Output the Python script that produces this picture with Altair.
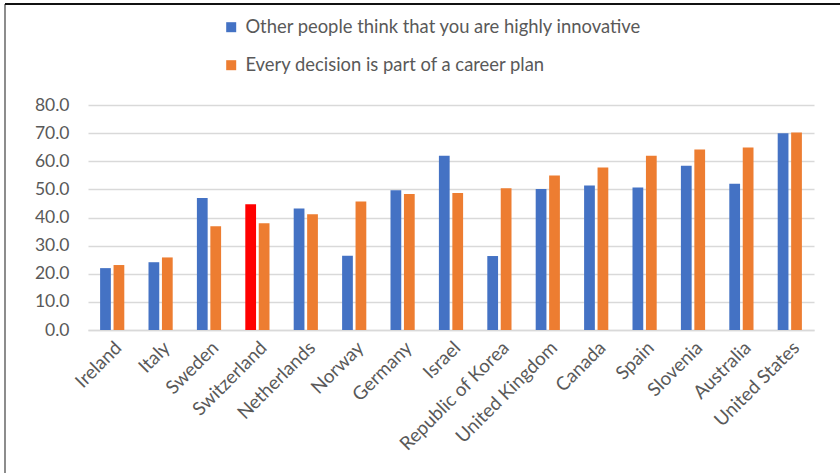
import altair as alt
import pandas as pd

countries = ["Ireland", "Italy", "Sweden", "Switzerland", "Netherlands", "Norway",
             "Germany", "Israel", "Republic of Korea", "United Kingdom", "Canada",
             "Spain", "Slovenia", "Australia", "United States"]
innovative = [22.0, 24.1, 46.9, 44.7, 43.2, 26.4, 49.7, 62.0, 26.3, 50.1, 51.4, 50.7, 58.4, 52.0, 70.0]
career = [23.1, 25.8, 36.9, 38.0, 41.2, 45.7, 48.4, 48.7, 50.4, 54.9, 57.8, 62.0, 64.2, 64.9, 70.2]
series = ["Other people think that you are highly innovative", "Every decision is part of a career plan"]
highlight = "Switzerland"

rows = []
for c, a, b in zip(countries, innovative, career):
    rows.append({"country": c, "series": series[0], "value": a})
    rows.append({"country": c, "series": series[1], "value": b})
df = pd.DataFrame(rows)

FONT = "Lato"
GRAY = "#595959"

bars = alt.Chart(df).mark_bar().encode(
    x=alt.X("country:N", sort=countries,
            scale=alt.Scale(paddingInner=0.5, paddingOuter=0.25),
            axis=alt.Axis(title=None, labelAngle=-45, labelFontSize=18.8, labelColor=GRAY,
                          labelFont=FONT, ticks=False, tickSize=0, labelPadding=8,
                          domainColor="#d9d9d9", domainWidth=1.5, grid=False)),
    xOffset=alt.XOffset("series:N", sort=series, scale=alt.Scale(paddingInner=0.2)),
    y=alt.Y("value:Q", scale=alt.Scale(domain=[0, 80]),
            axis=alt.Axis(title=None, values=[0, 10, 20, 30, 40, 50, 60, 70, 80], format=".1f",
                          labelFontSize=17.5, labelColor=GRAY, labelFont=FONT,
                          ticks=False, tickSize=0, labelPadding=19, domain=False,
                          gridColor="#d9d9d9", gridWidth=1.5)),
    color=alt.condition(
        f"datum.country == '{highlight}' && datum.series == '{series[0]}'",
        alt.value("#ff0000"),
        alt.Color("series:N", sort=series,
                  scale=alt.Scale(domain=series, range=["#4472c4", "#ed7d31"]),
                  legend=alt.Legend(title=None, orient="none", legendX=134, legendY=-87,
                                    direction="vertical", symbolType="square", symbolSize=100,
                                    symbolStrokeWidth=0, labelFontSize=18.4, labelColor=GRAY,
                                    labelFont=FONT, rowPadding=19, padding=0, labelOffset=5,
                                    labelLimit=600))
    ),
)

frame = alt.Data(values=[{"k": 1}])
left_line = alt.Chart(frame).mark_rule(color="#404040", strokeWidth=1.2, clip=False).encode(
    x=alt.value(-83), y=alt.value(-101), y2=alt.value(372))
top_line = alt.Chart(frame).mark_rule(color="#111111", strokeWidth=2, clip=False).encode(
    x=alt.value(-83), x2=alt.value(760), y=alt.value(-101))

chart = alt.layer(bars, left_line, top_line).properties(
    width=726, height=225,
    autosize=alt.AutoSizeParams(type="none"),
    padding={"left": 88, "top": 105, "right": 26, "bottom": 143},
    background="white",
).configure_view(stroke=None)

chart.save("out.html", embed_options={"renderer": "svg", "actions": False})
